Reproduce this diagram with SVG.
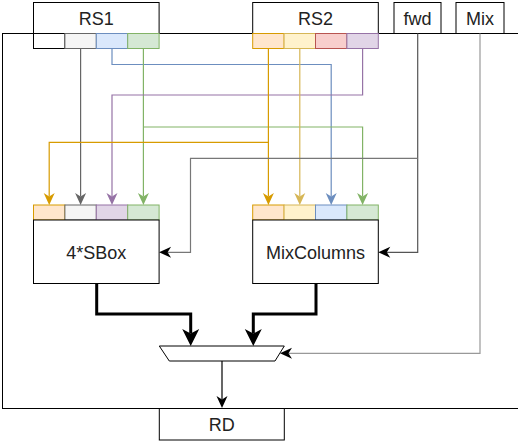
<svg xmlns="http://www.w3.org/2000/svg" width="518" height="441" viewBox="0 0 518 441">
<style>
.box{fill:#fff;stroke:#000;stroke-width:1}
.t{font-family:"Liberation Sans",Arial,sans-serif;font-size:18px;fill:#222;text-anchor:middle}
.ln{fill:none;stroke-width:1.2}
.thick{fill:none;stroke:#000;stroke-width:3}
</style>
<defs>
<marker id="m-or" viewBox="-4 -7 14 14" refX="0" refY="0" markerWidth="14" markerHeight="14" markerUnits="userSpaceOnUse" orient="auto"><path d="M0,0 L-3.5,-5.5 L8.5,0 L-3.5,5.5 Z" fill="#d79b00"/></marker>
<marker id="m-ye" viewBox="-4 -7 14 14" refX="0" refY="0" markerWidth="14" markerHeight="14" markerUnits="userSpaceOnUse" orient="auto"><path d="M0,0 L-3.5,-5.5 L8.5,0 L-3.5,5.5 Z" fill="#d6b656"/></marker>
<marker id="m-bl" viewBox="-4 -7 14 14" refX="0" refY="0" markerWidth="14" markerHeight="14" markerUnits="userSpaceOnUse" orient="auto"><path d="M0,0 L-3.5,-5.5 L8.5,0 L-3.5,5.5 Z" fill="#6c8ebf"/></marker>
<marker id="m-gr" viewBox="-4 -7 14 14" refX="0" refY="0" markerWidth="14" markerHeight="14" markerUnits="userSpaceOnUse" orient="auto"><path d="M0,0 L-3.5,-5.5 L8.5,0 L-3.5,5.5 Z" fill="#82b366"/></marker>
<marker id="m-pu" viewBox="-4 -7 14 14" refX="0" refY="0" markerWidth="14" markerHeight="14" markerUnits="userSpaceOnUse" orient="auto"><path d="M0,0 L-3.5,-5.5 L8.5,0 L-3.5,5.5 Z" fill="#9673a6"/></marker>
<marker id="m-gy" viewBox="-4 -7 14 14" refX="0" refY="0" markerWidth="14" markerHeight="14" markerUnits="userSpaceOnUse" orient="auto"><path d="M0,0 L-3.5,-5.5 L8.5,0 L-3.5,5.5 Z" fill="#666666"/></marker>
<marker id="m-k" viewBox="-4 -7 14 14" refX="0" refY="0" markerWidth="14" markerHeight="14" markerUnits="userSpaceOnUse" orient="auto"><path d="M0,0 L-3.5,-5.5 L8.5,0 L-3.5,5.5 Z" fill="#000"/></marker>
<marker id="m-thick" viewBox="-5 -9 18 18" refX="0" refY="0" markerWidth="18" markerHeight="18" markerUnits="userSpaceOnUse" orient="auto"><path d="M0,0 L-4.5,-8.5 L12.5,0 L-4.5,8.5 Z" fill="#000"/></marker>
</defs>

<rect id="frame" x="2.5" y="33.5" width="520" height="375" fill="#fff" stroke="#000"/>

<g id="RS1">
<rect class="box" x="33.5" y="2.5" width="125.6" height="31"/>
<text class="t" x="96.3" y="25">RS1</text>
<rect x="33.5" y="33.5" width="31.4" height="15" fill="#fff" stroke="#000"/>
<rect x="64.9" y="33.5" width="31.4" height="15" fill="#f5f5f5" stroke="#666666"/>
<rect x="96.3" y="33.5" width="31.4" height="15" fill="#dae8fc" stroke="#6c8ebf"/>
<rect x="127.7" y="33.5" width="31.4" height="15" fill="#d5e8d4" stroke="#82b366"/>
</g>

<g id="RS2">
<rect class="box" x="252.7" y="2.5" width="125.6" height="31"/>
<text class="t" x="315.5" y="25">RS2</text>
<rect x="252.7" y="33.5" width="31.4" height="15" fill="#ffe6cc" stroke="#d79b00"/>
<rect x="284.1" y="33.5" width="31.4" height="15" fill="#fff2cc" stroke="#d6b656"/>
<rect x="315.5" y="33.5" width="31.4" height="15" fill="#f8cecc" stroke="#b85450"/>
<rect x="346.9" y="33.5" width="31.4" height="15" fill="#e1d5e7" stroke="#9673a6"/>
</g>

<g id="fwd">
<rect class="box" x="394" y="2.5" width="47" height="31"/>
<text class="t" x="417.5" y="25">fwd</text>
</g>

<g id="Mix">
<rect class="box" x="456" y="2.5" width="48" height="31"/>
<text class="t" x="480" y="25">Mix</text>
</g>

<g id="SBox">
<rect x="33.5" y="205" width="31.4" height="15" fill="#ffe6cc" stroke="#d79b00"/>
<rect x="64.9" y="205" width="31.4" height="15" fill="#f5f5f5" stroke="#666666"/>
<rect x="96.3" y="205" width="31.4" height="15" fill="#e1d5e7" stroke="#9673a6"/>
<rect x="127.7" y="205" width="31.4" height="15" fill="#d5e8d4" stroke="#82b366"/>
<rect class="box" x="33.5" y="220" width="125.6" height="63.5"/>
<text class="t" x="96.3" y="259">4*SBox</text>
</g>

<g id="MixColumns">
<rect x="252.7" y="205" width="31.4" height="15" fill="#ffe6cc" stroke="#d79b00"/>
<rect x="284.1" y="205" width="31.4" height="15" fill="#fff2cc" stroke="#d6b656"/>
<rect x="315.5" y="205" width="31.4" height="15" fill="#dae8fc" stroke="#6c8ebf"/>
<rect x="346.9" y="205" width="31.4" height="15" fill="#d5e8d4" stroke="#82b366"/>
<rect class="box" x="252.7" y="220" width="125.6" height="63.5"/>
<text class="t" x="315.5" y="259">MixColumns</text>
</g>

<g id="mux">
<polygon points="159.3,346 284.3,346 275,361 169.3,361" fill="#fff" stroke="#000"/>
</g>

<g id="RD">
<rect class="box" x="159.3" y="408.5" width="125" height="31.5"/>
<text class="t" x="221.8" y="431">RD</text>
</g>

<g id="connectors">
<path class="ln" stroke="#666666" d="M80.6,48.5 V196.5" marker-end="url(#m-gy)"/>
<path class="ln" stroke="#6c8ebf" d="M112,48.5 V64.5 H331.2 V196.5" marker-end="url(#m-bl)"/>
<path class="ln" stroke="#82b366" d="M143.4,48.5 V196.5" marker-end="url(#m-gr)"/>
<path class="ln" stroke="#82b366" d="M143.4,127 H362.6 V196.5" marker-end="url(#m-gr)"/>
<path class="ln" stroke="#9673a6" d="M362.6,48.5 V95 H112 V196.5" marker-end="url(#m-pu)"/>
<path class="ln" stroke="#d79b00" d="M268.4,48.5 V196.5" marker-end="url(#m-or)"/>
<path class="ln" stroke="#d79b00" d="M268.4,142.3 H49.2 V196.5" marker-end="url(#m-or)"/>
<path class="ln" stroke="#d6b656" d="M299.8,48.5 V196.5" marker-end="url(#m-ye)"/>
<path class="ln" stroke="#555" d="M417.7,33.5 V252.3 H386.8" marker-end="url(#m-k)"/>
<path class="ln" stroke="#777" d="M417.7,158.3 H190.5 V252.3 H167.6" marker-end="url(#m-k)"/>
<path class="ln" stroke="#999" d="M480,33.5 V353.3 H288.5" marker-end="url(#m-k)"/>
<path class="thick" d="M96.7,283.5 V314 H190.7 V333.5" marker-end="url(#m-thick)"/>
<path class="thick" d="M316,283.5 V314 H253.3 V333.5" marker-end="url(#m-thick)"/>
<path class="ln" stroke="#000" d="M222,361 V399.5" marker-end="url(#m-k)"/>
</g>
</svg>
